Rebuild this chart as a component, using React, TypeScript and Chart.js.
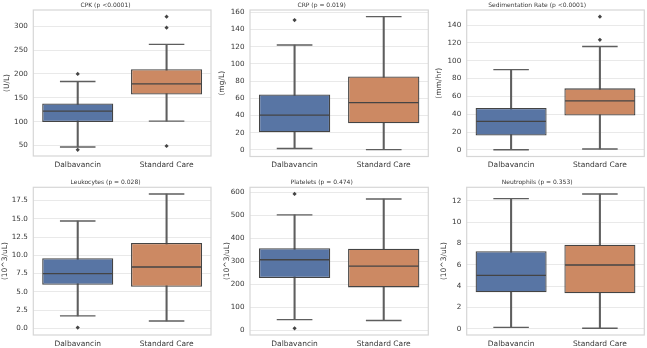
import React, { useEffect, useRef } from "react";
import { Chart, registerables } from "chart.js";

Chart.register(...registerables);
Chart.defaults.font.family = "'DejaVu Sans', sans-serif";

// ---------- data ----------
const categories = ["Dalbavancin", "Standard Care"];

// CPK
const cpkWhiskerLow = [47, 101];
const cpkQ1 = [99, 157];
const cpkMedian = [122, 179];
const cpkQ3 = [138, 210];
const cpkWhiskerHigh = [184, 262];
const cpkOutliers = [[200, 41], [320, 297, 49]];
const cpkTicks = [50, 100, 150, 200, 250, 300];

// CRP
const crpWhiskerLow = [1.5, 0.3];
const crpQ1 = [20.5, 31];
const crpMedian = [40.5, 55];
const crpQ3 = [64.5, 85.5];
const crpWhiskerHigh = [122, 155];
const crpOutliers = [[151], []];
const crpTicks = [0, 20, 40, 60, 80, 100, 120, 140, 160];

// Sedimentation rate
const esrWhiskerLow = [0, 1];
const esrQ1 = [16, 38.5];
const esrMedian = [32, 55];
const esrQ3 = [47, 69];
const esrWhiskerHigh = [90, 116];
const esrOutliers = [[], [149.5, 123.5]];
const esrTicks = [0, 20, 40, 60, 80, 100, 120, 140];

// Leukocytes
const wbcWhiskerLow = [1.7, 1.0];
const wbcQ1 = [5.95, 5.7];
const wbcMedian = [7.5, 8.4];
const wbcQ3 = [9.6, 11.7];
const wbcWhiskerHigh = [14.7, 18.4];
const wbcOutliers = [[0.1], []];
const wbcTicks = [0, 2.5, 5, 7.5, 10, 12.5, 15, 17.5];

// Platelets
const pltWhiskerLow = [47, 43];
const pltQ1 = [228, 187];
const pltMedian = [307, 279];
const pltQ3 = [357, 355];
const pltWhiskerHigh = [502, 571];
const pltOutliers = [[593, 9], []];
const pltTicks = [0, 100, 200, 300, 400, 500, 600];

// Neutrophils
const neuWhiskerLow = [0.13, 0.05];
const neuQ1 = [3.43, 3.33];
const neuMedian = [5.0, 5.98];
const neuQ3 = [7.27, 7.87];
const neuWhiskerHigh = [12.2, 12.63];
const neuOutliers = [[], []];
const neuTicks = [0, 2, 4, 6, 8, 10, 12];

const titles = [
  "CPK (p <0.0001)",
  "CRP (p = 0.019)",
  "Sedimentation Rate (p <0.0001)",
  "Leukocytes (p = 0.028)",
  "Platelets (p = 0.474)",
  "Neutrophils (p = 0.353)",
];
const units = ["(U/L)", "(mg/L)", "(mm/hr)", "(10^3/uL)", "(10^3/uL)", "(10^3/uL)"];

// ---------- styling / layout ----------
const boxColors = ["#5875a4", "#cc8963"];
const lineColor = "#444444";
const whiskerColor = "#5e5e5e";
const textColor = "#363636";
const gridColor = "#e9e9e9";
const frameColor = "#d6d6d6";

type Panel = {
  title: string;
  unit: string;
  low: number[];
  q1: number[];
  med: number[];
  q3: number[];
  high: number[];
  outliers: number[][];
  ticks: number[];
  decimals: number;
  yMin: number;
  yMax: number;
  x: number;
  y: number;
  w: number;
  h: number;
  L: number;
  R: number;
  T: number;
  B: number;
  yTitlePad: number;
  titlePadTop: number;
};

const panels: Panel[] = [
  { title: titles[0], unit: units[0], low: cpkWhiskerLow, q1: cpkQ1, med: cpkMedian, q3: cpkQ3, high: cpkWhiskerHigh, outliers: cpkOutliers, ticks: cpkTicks, decimals: 0, yMin: 28, yMax: 334,
    x: 0, y: 0, w: 215, h: 174, L: 33.3, R: 211, T: 10, B: 156, yTitlePad: 2.2, titlePadTop: 1.4 },
  { title: titles[1], unit: units[1], low: crpWhiskerLow, q1: crpQ1, med: crpMedian, q3: crpQ3, high: crpWhiskerHigh, outliers: crpOutliers, ticks: crpTicks, decimals: 0, yMin: -7.75, yMax: 162.75,
    x: 215, y: 0, w: 215, h: 174, L: 35, R: 213.3, T: 10, B: 156.5, yTitlePad: 2.8, titlePadTop: 1.4 },
  { title: titles[2], unit: units[2], low: esrWhiskerLow, q1: esrQ1, med: esrMedian, q3: esrQ3, high: esrWhiskerHigh, outliers: esrOutliers, ticks: esrTicks, decimals: 0, yMin: -7.5, yMax: 157,
    x: 430, y: 0, w: 217, h: 174, L: 36.7, R: 214.3, T: 10, B: 156.5, yTitlePad: 4.8, titlePadTop: 1.4 },
  { title: titles[3], unit: units[3], low: wbcWhiskerLow, q1: wbcQ1, med: wbcMedian, q3: wbcQ3, high: wbcWhiskerHigh, outliers: wbcOutliers, ticks: wbcTicks, decimals: 1, yMin: -0.92, yMax: 19.32,
    x: 0, y: 174, w: 215, h: 174, L: 33.3, R: 211, T: 13.3, B: 161, yTitlePad: 0.5, titlePadTop: 4.7 },
  { title: titles[4], unit: units[4], low: pltWhiskerLow, q1: pltQ1, med: pltMedian, q3: pltQ3, high: pltWhiskerHigh, outliers: pltOutliers, ticks: pltTicks, decimals: 0, yMin: -20, yMax: 622,
    x: 215, y: 174, w: 215, h: 174, L: 35, R: 213.3, T: 13.3, B: 161, yTitlePad: 7.8, titlePadTop: 4.7 },
  { title: titles[5], unit: units[5], low: neuWhiskerLow, q1: neuQ1, med: neuMedian, q3: neuQ3, high: neuWhiskerHigh, outliers: neuOutliers, ticks: neuTicks, decimals: 0, yMin: -0.58, yMax: 13.26,
    x: 430, y: 174, w: 217, h: 174, L: 36.7, R: 214.3, T: 13.3, B: 161, yTitlePad: 10, titlePadTop: 4.7 },
];

const framePlugin = {
  id: "frame",
  beforeDatasetsDraw(chart: any) {
    const { ctx, chartArea } = chart;
    ctx.save();
    ctx.strokeStyle = frameColor;
    ctx.lineWidth = 1.2;
    ctx.strokeRect(chartArea.left, chartArea.top, chartArea.right - chartArea.left, chartArea.bottom - chartArea.top);
    ctx.restore();
  },
};

function halfBoxOf(chart: any, fallback: number) {
  const a = chart.chartArea;
  if (!a) return fallback;
  return ((a.right - a.left) / categories.length) * 0.8 / 2;
}

function BoxPanel({ p }: { p: Panel }) {
  const ref = useRef<HTMLCanvasElement | null>(null);
  useEffect(() => {
    const canvas = ref.current;
    if (!canvas) return;
    const fallbackHalf = ((p.R - p.L) / categories.length) * 0.8 / 2;
    const font = { family: "'DejaVu Sans', sans-serif", size: 7.5 };
    const tickFont = { family: "'DejaVu Sans', sans-serif", size: 7.2 };
    const outlierPts: any[] = [];
    p.outliers.forEach((arr, i) => arr.forEach((v) => outlierPts.push({ x: categories[i], y: v })));
    const capPts: any[] = [];
    categories.forEach((c, i) => {
      capPts.push({ x: c, y: p.low[i] });
      capPts.push({ x: c, y: p.high[i] });
    });
    const chart = new Chart(canvas, {
      type: "bar",
      data: {
        labels: categories,
        datasets: [
          {
            type: "bar",
            label: "whisker",
            data: p.low.map((v, i) => [v, p.high[i]]),
            backgroundColor: whiskerColor,
            borderWidth: 0,
            barThickness: 1.4,
            grouped: false,
            order: 6,
          } as any,
          {
            type: "bar",
            label: "box",
            data: p.q1.map((v, i) => [v, p.q3[i]]),
            backgroundColor: boxColors,
            borderColor: lineColor,
            borderWidth: 1.3,
            borderSkipped: false,
            barPercentage: 0.8,
            categoryPercentage: 1,
            grouped: false,
            order: 5,
          } as any,
          {
            type: "line",
            label: "caps",
            data: capPts,
            showLine: false,
            pointStyle: "line",
            pointRadius: (ctx: any) => halfBoxOf(ctx.chart, fallbackHalf) / 2,
            pointBorderColor: whiskerColor,
            pointBorderWidth: 1.4,
            order: 3,
          } as any,
          {
            type: "line",
            label: "median",
            data: p.med.map((v, i) => ({ x: categories[i], y: v })),
            showLine: false,
            pointStyle: "line",
            pointRadius: (ctx: any) => halfBoxOf(ctx.chart, fallbackHalf) - 0.7,
            pointBorderColor: lineColor,
            pointBorderWidth: 1.3,
            order: 2,
          } as any,
          {
            type: "line",
            label: "outliers",
            data: outlierPts,
            showLine: false,
            pointStyle: "rectRot",
            pointRadius: 2.1,
            pointBackgroundColor: lineColor,
            pointBorderColor: lineColor,
            pointBorderWidth: 0,
            order: 1,
          } as any,
        ],
      },
      options: {
        animation: false,
        responsive: false,
        events: [],
        layout: { autoPadding: false, padding: { left: 0, right: p.w - p.R, top: 0, bottom: 0 } },
        plugins: {
          legend: { display: false },
          tooltip: { enabled: false },
          title: {
            display: true,
            text: p.title,
            color: textColor,
            font: { family: "'DejaVu Sans', sans-serif", size: 6, weight: "normal" },
            padding: { top: p.titlePadTop, bottom: 1.4 },
          },
        },
        scales: {
          x: {
            type: "category",
            offset: true,
            grid: { display: false, drawTicks: false },
            border: { display: false },
            ticks: { color: textColor, font, padding: 4.3, maxRotation: 0, autoSkip: false },
            afterFit: (s: any) => {
              s.height = p.h - p.B;
            },
          },
          y: {
            type: "linear",
            min: p.yMin,
            max: p.yMax,
            bounds: "data",
            grid: { color: gridColor, lineWidth: 1, drawTicks: false },
            border: { display: false },
            ticks: {
              color: textColor,
              font: tickFont,
              padding: 5.5,
              callback: (v: any) => Number(v).toFixed(p.decimals),
            },
            afterBuildTicks: (s: any) => {
              s.ticks = p.ticks.map((v) => ({ value: v }));
            },
            afterFit: (s: any) => {
              s.width = p.L;
            },
            title: {
              display: true,
              text: p.unit,
              color: textColor,
              font,
              padding: { top: p.yTitlePad, bottom: 0 },
            },
          },
        },
      } as any,
      plugins: [framePlugin],
    });
    return () => chart.destroy();
  }, [p]);
  return (
    <canvas
      ref={ref}
      width={p.w}
      height={p.h}
      style={{ position: "absolute", left: p.x, top: p.y, width: p.w, height: p.h }}
    />
  );
}

export default function App() {
  return (
    <div style={{ position: "fixed", left: 0, top: 0, width: 647, height: 348, background: "#ffffff" }}>
      {panels.map((p, i) => (
        <BoxPanel key={i} p={p} />
      ))}
    </div>
  );
}
